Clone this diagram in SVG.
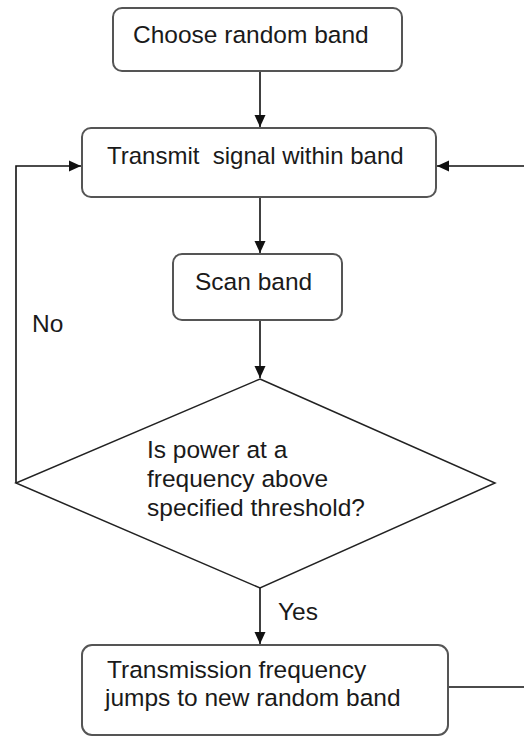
<svg xmlns="http://www.w3.org/2000/svg" width="524" height="738" viewBox="0 0 524 738">
<style>
.box{fill:#fff;stroke:#555;stroke-width:2}
.dia{fill:#fff;stroke:#222;stroke-width:1.5}
.t{font-family:"Liberation Sans",Arial,sans-serif;font-size:24.5px;fill:#1a1a1a}
.c{fill:none;stroke:#111;stroke-width:1.6}
</style>
<defs>
<marker id="ah" markerWidth="12" markerHeight="12" viewBox="0 0 12 12" refX="12" refY="6" orient="auto" markerUnits="userSpaceOnUse">
<path d="M0,0.5 L12,6 L0,11.5 Z" fill="#111"/>
</marker>
</defs>
<rect width="524" height="738" fill="#fff"/>
<g id="connectors">
<path class="c" d="M260,71 V127" marker-end="url(#ah)"/>
<path class="c" d="M260,197 V253" marker-end="url(#ah)"/>
<path class="c" d="M260,320 V378" marker-end="url(#ah)"/>
<path class="c" d="M260,588 V644" marker-end="url(#ah)"/>
<path class="c" d="M16,483 V166 H81" marker-end="url(#ah)"/>
<path class="c" d="M448,687 H528 V166 H437" marker-end="url(#ah)"/>
<text class="t" x="32" y="332">No</text>
<text class="t" x="278" y="620">Yes</text>
</g>
<g id="choose">
<rect class="box" x="113" y="8" width="289" height="63" rx="9"/>
<text class="t" x="133" y="43">Choose random band</text>
</g>
<g id="transmit">
<rect class="box" x="82" y="128" width="354" height="69" rx="9"/>
<text class="t" x="107" y="164" style="font-size:24px" xml:space="preserve">Transmit  signal within band</text>
</g>
<g id="scan">
<rect class="box" x="173" y="254" width="169" height="66" rx="9"/>
<text class="t" x="195" y="290">Scan band</text>
</g>
<g id="decision">
<polygon class="dia" points="260,379 495,483 260,588 16,483"/>
<text class="t" x="147" y="458">Is power at a</text>
<text class="t" x="147" y="487">frequency above</text>
<text class="t" x="147" y="516">specified threshold?</text>
</g>
<g id="jump">
<rect class="box" x="82" y="645" width="366" height="90" rx="10"/>
<text class="t" x="107" y="678">Transmission frequency</text>
<text class="t" x="105" y="706">jumps to new random band</text>
</g>
</svg>
